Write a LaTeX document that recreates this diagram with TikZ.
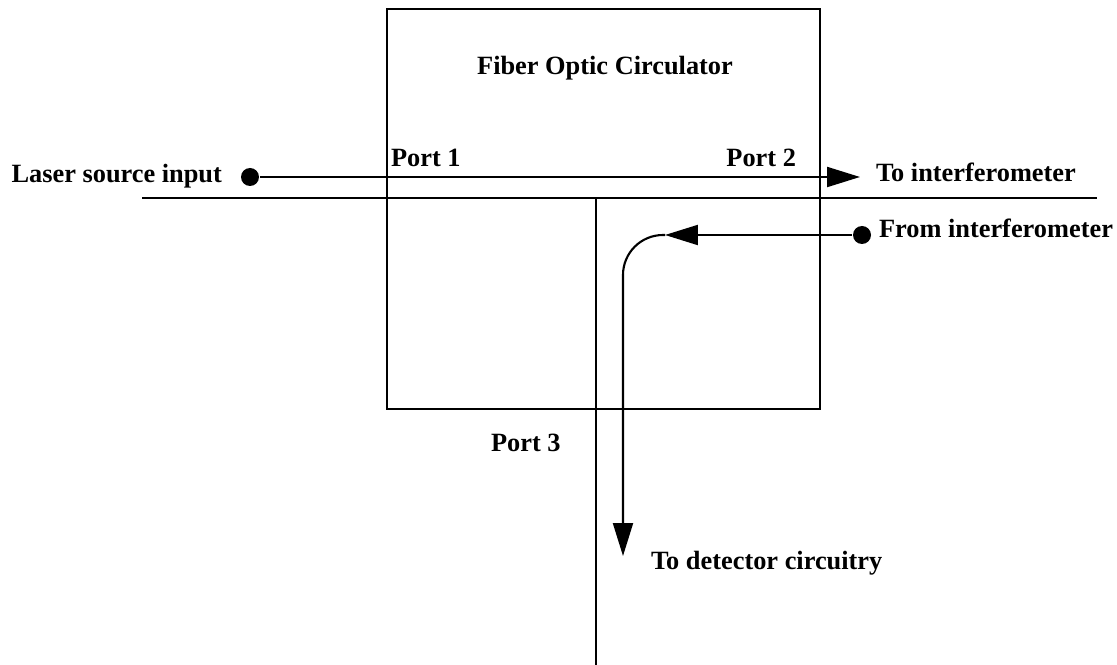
\documentclass[tikz,border=0pt]{standalone}
\usepackage{fontspec}
\setmainfont{Liberation Serif}
\usepackage{tikz}
\usetikzlibrary{arrows.meta,positioning}

\begin{document}
\begin{tikzpicture}[
    x=0.02cm, y=-0.02cm,
    font=\fontsize{15}{18}\selectfont\bfseries,
    line width=1.2pt,
    box/.style={draw, line width=1.2pt, minimum width=8.66cm, minimum height=8cm, inner sep=0pt},
    lbl/.style={inner sep=0pt},
    dot/.style={circle, fill, inner sep=0pt, minimum size=0.36cm},
    arrow/.style={line width=1.2pt,-{Triangle[length=0.66cm,width=0.4cm]}}
]
\useasboundingbox (0,0) rectangle (1117,665);

\node (circ) [box] at (603.5,209) {};
\node (title) [lbl, anchor=base] at (605,75) {Fiber Optic Circulator};
\node (port1) [lbl, anchor=base west] at (390,167) {Port 1};
\node (port2) [lbl, anchor=base east] at (797,167) {Port 2};
\node (port3) [lbl, anchor=base west] at (490,452) {Port 3};

\node (laser) [lbl, anchor=base east] at (223,183) {Laser source input};
\node (laserdot) [dot] at (250,177) {};
\node (toint) [lbl, anchor=base west] at (875,182) {To interferometer};
\node (fromdot) [dot] at (862,235) {};
\node (fromint) [lbl, anchor=base west] at (878,238) {From interferometer};
\node (todet) [lbl, anchor=base west] at (650,570) {To detector circuitry};

\coordinate (fibleft) at (142,198);
\coordinate (fibright) at (1097,198);
\coordinate (fibtop) at (596,198);
\coordinate (fibbottom) at (596,665);
\coordinate (port2tip) at (860,177);
\coordinate (bend) at (665,235);
\coordinate (dettip) at (623,556);

\draw (fibleft) -- (fibright);
\draw (fibtop) -- (fibbottom);

\draw [arrow] (laserdot) -- (port2tip);
\draw [arrow] (fromdot) -- (bend);
\draw [arrow, rounded corners=0.8cm] (bend) -| (dettip);

\end{tikzpicture}
\end{document}
